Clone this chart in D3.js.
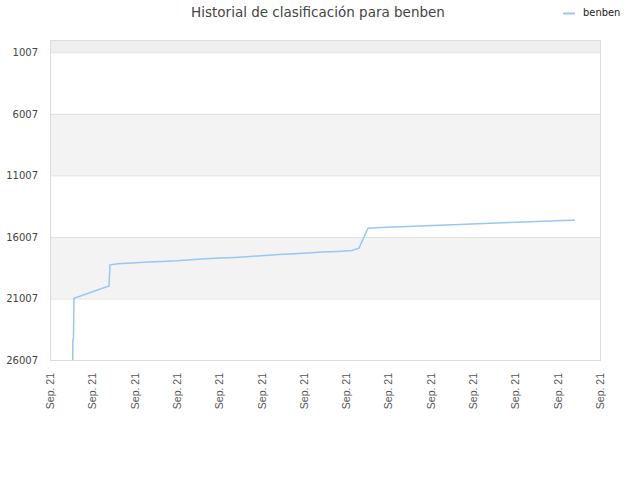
<!DOCTYPE html>
<html>
<head>
<meta charset="utf-8">
<script src="https://cdn.jsdelivr.net/npm/d3@7"></script>
<style>
  body { margin: 0; background: #fff; }
  svg { display: block; }
</style>
</head>
<body>
<div id="chart"></div>
<script>
// tick labels along the bottom (all the same date)
let xLabels = ['Sep. 21', 'Sep. 21', 'Sep. 21', 'Sep. 21', 'Sep. 21', 'Sep. 21', 'Sep. 21',
    'Sep. 21', 'Sep. 21', 'Sep. 21', 'Sep. 21', 'Sep. 21', 'Sep. 21', 'Sep. 21'];
let yTicks = [1007, 6007, 11007, 16007, 21007, 26007];

// position along the time axis (in tick steps) and the rank at that moment
let timePos = [0.537, 0.540, 0.555, 0.567, 1.394, 1.418, 1.607, 1.938, 2.293, 2.647, 3.002,
    3.333, 3.687, 4.018, 4.373, 4.727, 5.081, 5.412, 5.767, 6.098, 6.429, 6.783, 7.138,
    7.303, 7.516, 7.823, 8.438, 9.052, 9.667, 10.258, 10.872, 11.487, 12.101, 12.408];
let ranks = [26007, 24383, 24300, 21000, 20000, 18272, 18190, 18134, 18053, 17996, 17947,
    17866, 17785, 17728, 17671, 17590, 17509, 17428, 17379, 17322, 17241, 17184, 17103,
    16916, 15293, 15236, 15155, 15074, 14993, 14912, 14830, 14749, 14668, 14644];

let width = 640, height = 480;
let plotL = 50, plotR = 600, plotT = 40, plotB = 360;

let svg = d3.select('#chart').append('svg')
    .attr('width', width)
    .attr('height', height);

let x = d3.scaleLinear()
    .domain([0, xLabels.length - 1])
    .range([plotL, plotR]);

let y = d3.scaleLinear()
    .domain([7, 26007])
    .range([plotT, plotB]);

// alternating bands
let bandEdges = [7].concat(yTicks);
for (let i = 0; i < bandEdges.length - 1; i++) {
    svg.append('rect')
        .attr('x', plotL)
        .attr('y', y(bandEdges[i]))
        .attr('width', plotR - plotL)
        .attr('height', y(bandEdges[i + 1]) - y(bandEdges[i]))
        .attr('fill', i == 0 ? '#eeeeee' : (i % 2 == 0 ? '#f3f3f3' : '#ffffff'));
}

// grid lines
svg.selectAll('.grid').data(yTicks).enter()
    .append('line')
    .attr('x1', plotL).attr('x2', plotR)
    .attr('y1', d => y(d) + 0.5).attr('y2', d => y(d) + 0.5)
    .attr('stroke', '#dfdfdf');

// plot frame
svg.append('rect')
    .attr('x', plotL + 0.5).attr('y', plotT + 0.5)
    .attr('width', plotR - plotL).attr('height', plotB - plotT)
    .attr('fill', 'none')
    .attr('stroke', '#dcdcdc');

// y tick labels
svg.selectAll('.ylab').data(yTicks).enter()
    .append('text')
    .attr('x', 38)
    .attr('y', d => y(d) + 4)
    .attr('text-anchor', 'end')
    .style('font-family', 'DejaVu Sans')
    .style('font-size', '10px')
    .style('fill', '#444')
    .text(d => d);

// x tick labels, rotated
svg.selectAll('.xlab').data(xLabels).enter()
    .append('text')
    .attr('transform', (d, i) => 'translate(' + (x(i) + 4) + ',' + 373 + ') rotate(-90)')
    .attr('text-anchor', 'end')
    .style('font-family', 'Liberation Sans')
    .style('font-size', '10.5px')
    .style('fill', '#555')
    .text(d => d);

// rank line
let pts = timePos.map((t, i) => [t, ranks[i]]);
let line = d3.line()
    .x(d => x(d[0]))
    .y(d => y(d[1]));

svg.append('path')
    .datum(pts)
    .attr('d', line)
    .attr('fill', 'none')
    .attr('stroke', '#99c6f3')
    .attr('stroke-width', 1.5);

// title
svg.append('text')
    .attr('x', 318)
    .attr('y', 17)
    .attr('text-anchor', 'middle')
    .style('font-family', 'DejaVu Sans')
    .style('font-size', '13.5px')
    .style('fill', '#444')
    .text('Historial de clasificación para benben');

// legend
svg.append('line')
    .attr('x1', 563).attr('x2', 575)
    .attr('y1', 13.5).attr('y2', 13.5)
    .attr('stroke', '#99c6f3')
    .attr('stroke-width', 2);

svg.append('text')
    .attr('x', 583)
    .attr('y', 16)
    .style('font-family', 'DejaVu Sans Condensed, DejaVu Sans')
    .style('font-size', '11px')
    .style('fill', '#222')
    .text('benben');
</script>
</body>
</html>
